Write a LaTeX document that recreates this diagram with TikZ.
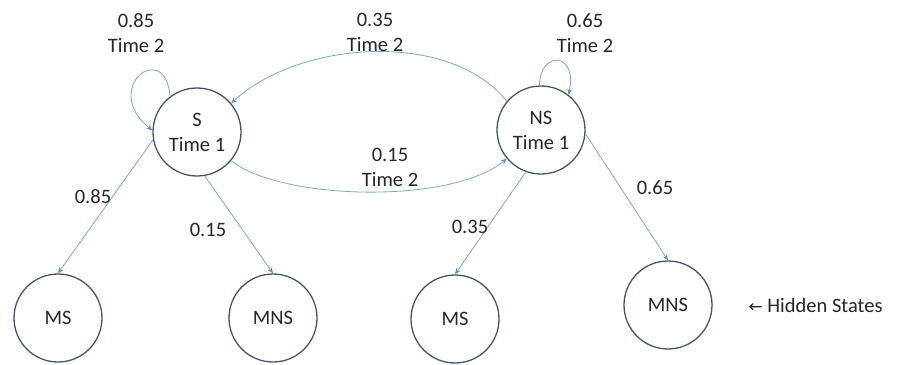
\documentclass[tikz,border=0pt]{standalone}
\usepackage{fontspec}
\setmainfont{Carlito}
\newfontfamily\symfont{DejaVu Sans}
\usetikzlibrary{arrows.meta}
\definecolor{circ}{HTML}{44546A}
\definecolor{edge}{HTML}{7EA6CB}
\definecolor{tip}{HTML}{5B8FC4}
\tikzset{
  x=1pt,y=-1pt,
  every node/.style={font=\fontsize{20.5}{25}\selectfont, text=black!85},
  state/.style={circle, draw=circ, line width=1.3pt, minimum size=88pt, inner sep=0pt, align=center},
  lbl/.style={align=center},
  conn/.style={draw=edge, line width=0.8pt, -{Stealth[length=6pt,width=5pt,color=tip]}}
}
\begin{document}
\begin{tikzpicture}
\useasboundingbox (0,0) rectangle (901,364);
\node[state] (S) at (197,132) {S\\Time 1};
\node[state] (NS) at (541,130) {NS\\Time 1};
\node[state] (MS1) at (58,318) {MS};
\node[state] (MNS1) at (273,318) {MNS};
\node[state] (MS2) at (455,319) {MS};
\node[state] (MNS2) at (668,305) {MNS};
\node[anchor=west] (hid) at (745,305) {{\symfont\fontsize{17}{20}\selectfont ←} Hidden States};

% self loops
\draw[conn] (S.127) .. controls (165,38) and (100,88) .. (S.178);
\draw[conn] (NS.92) .. controls (540,50) and (578,52) .. (NS.52);
% transitions between hidden states
\draw[conn] (NS.140) .. controls (450,30) and (300,40) .. (S.40);
\draw[conn] (S.-40) .. controls (280,200) and (450,205) .. (NS.-140);
% emissions
\draw[conn] (S.190) -- (MS1.north);
\draw[conn] (S.-80) -- (MNS1.north);
\draw[conn] (NS.-110) -- (MS2.north);
\draw[conn] (NS.-5) -- (MNS2.north);

% labels
\node[lbl] (l1) at (136,33) {0.85\\Time 2};
\node[lbl] (l2) at (375,32) {0.35\\Time 2};
\node[lbl] (l3) at (585,33) {0.65\\Time 2};
\node[lbl] (l4) at (390,167) {0.15\\Time 2};
\node (l5) at (93,197) {0.85};
\node (l6) at (208,230) {0.15};
\node (l7) at (470,227) {0.35};
\node (l8) at (655,188) {0.65};
\end{tikzpicture}
\end{document}
